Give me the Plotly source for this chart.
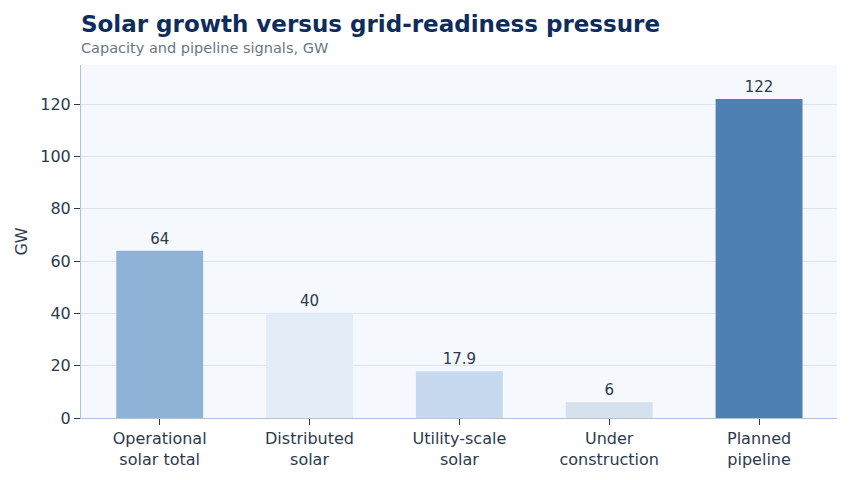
import plotly.graph_objects as go

categories = ["Operational<br>solar total", "Distributed<br>solar", "Utility-scale<br>solar",
              "Under<br>construction", "Planned<br>pipeline"]
values = [64, 40, 17.9, 6, 122]
labels = ["64", "40", "17.9", "6", "122"]
bar_colors = ["#8fb2d7", "#e3edf7", "#c6d9ee", "#d5e1ed", "#4e80b3"]

fig = go.Figure()
fig.add_trace(go.Bar(x=categories, y=values, text=labels, textposition="outside",
                     marker=dict(color=bar_colors, line=dict(width=0)),
                     width=0.58, cliponaxis=False,
                     textfont=dict(size=15, color="#2b3a4f")))

# page has a body margin, so the figure is a bit smaller than the window
fig.update_layout(
    width=841, height=472,
    font=dict(family="DejaVu Sans", color="#2b3a4f"),
    title=dict(text="<b>Solar growth versus grid-readiness pressure</b>",
               xref="paper", x=0, xanchor="left",
               yref="container", y=0.966, yanchor="middle",
               font=dict(size=23, color="#0f2d5c")),
    margin=dict(l=73, r=12, t=57, b=62),
    plot_bgcolor="#f5f8fc", paper_bgcolor="white",
    showlegend=False,
)
fig.add_annotation(text="Capacity and pipeline signals, GW", xref="paper", yref="paper",
                   x=0, y=1.048, xanchor="left", yanchor="middle", showarrow=False,
                   xshift=-2, font=dict(size=14.5, color="#667789"))
fig.update_yaxes(range=[0, 135], dtick=20, automargin=False,
                 title=dict(text="GW", font=dict(size=16), standoff=8),
                 gridcolor="#dce5ef", showline=True, linecolor="#b3c2d4", linewidth=1,
                 ticks="outside", ticklen=6, tickcolor="#2b3a4f",
                 tickfont=dict(size=16), zeroline=False)
fig.update_xaxes(range=[-0.525, 4.52], showline=True, linecolor="#b3c2d4", linewidth=1,
                 automargin=False, ticks="outside", ticklen=6, tickcolor="#2b3a4f",
                 tickfont=dict(size=16))

fig.write_html("out.html")
